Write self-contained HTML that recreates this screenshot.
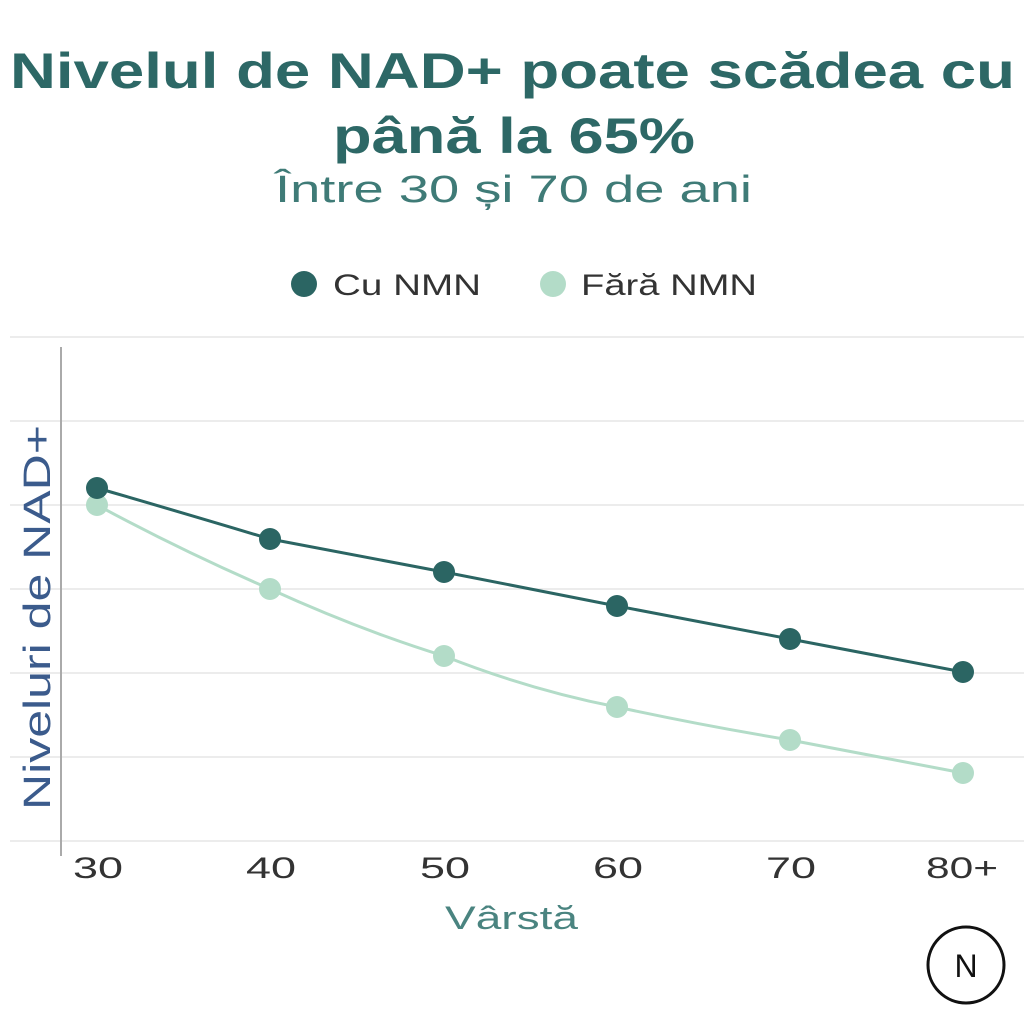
<!DOCTYPE html>
<html><head><meta charset="utf-8"><style>
body{margin:0;width:1024px;height:1024px;background:#fff;overflow:hidden;font-family:"Liberation Sans",sans-serif}
</style></head><body>
<svg width="1024" height="1024" xmlns="http://www.w3.org/2000/svg" font-family="Liberation Sans, DejaVu Sans, sans-serif">
<text x="10" y="88" font-size="50" font-weight="bold" fill="#2d6866" textLength="1005" lengthAdjust="spacingAndGlyphs">Nivelul de NAD+ poate scădea cu</text>
<text x="333" y="153" font-size="50" font-weight="bold" fill="#2d6866" textLength="362" lengthAdjust="spacingAndGlyphs">până la 65%</text>
<text x="275" y="202" font-size="38" fill="#3f7b77" textLength="477" lengthAdjust="spacingAndGlyphs">Între 30 și 70 de ani</text>
<circle cx="304" cy="284" r="13" fill="#2b6563"/>
<text x="333" y="295" font-size="30" fill="#333" textLength="148" lengthAdjust="spacingAndGlyphs">Cu NMN</text>
<circle cx="553" cy="284" r="13" fill="#b3dcc8"/>
<text x="581" y="295" font-size="30" fill="#333" textLength="176" lengthAdjust="spacingAndGlyphs">Fără NMN</text>
<g stroke="#ececec" stroke-width="2">
<line x1="10" y1="337" x2="1024" y2="337"/><line x1="10" y1="421" x2="1024" y2="421"/>
<line x1="10" y1="505" x2="1024" y2="505"/><line x1="10" y1="589" x2="1024" y2="589"/>
<line x1="10" y1="673" x2="1024" y2="673"/><line x1="10" y1="757" x2="1024" y2="757"/>
<line x1="10" y1="841" x2="1024" y2="841"/></g>
<line x1="61" y1="347" x2="61" y2="856" stroke="#aaa" stroke-width="2"/>
<text transform="translate(50,810) rotate(-90)" font-size="38" fill="#3b5b8c" textLength="385" lengthAdjust="spacingAndGlyphs">Niveluri de NAD+</text>
<path d="M97,505 Q180,550 270,589 Q360,630 444,656 Q530,690 617,707 Q700,725 790,740 L963,773" fill="none" stroke="#b3dcc8" stroke-width="3"/>
<path d="M97,488 Q180,512 270,539 L444,572 L617,606 L790,639 L963,672" fill="none" stroke="#2b6563" stroke-width="3"/>
<g fill="#b3dcc8"><circle cx="97" cy="505" r="11"/><circle cx="270" cy="589" r="11"/><circle cx="444" cy="656" r="11"/><circle cx="617" cy="707" r="11"/><circle cx="790" cy="740" r="11"/><circle cx="963" cy="773" r="11"/></g>
<g fill="#2b6563"><circle cx="97" cy="488" r="11"/><circle cx="270" cy="539" r="11"/><circle cx="444" cy="572" r="11"/><circle cx="617" cy="606" r="11"/><circle cx="790" cy="639" r="11"/><circle cx="963" cy="672" r="11"/></g>
<g font-size="30" fill="#333">
<text x="73" y="878" textLength="50" lengthAdjust="spacingAndGlyphs">30</text><text x="246" y="878" textLength="50" lengthAdjust="spacingAndGlyphs">40</text><text x="420" y="878" textLength="50" lengthAdjust="spacingAndGlyphs">50</text><text x="593" y="878" textLength="50" lengthAdjust="spacingAndGlyphs">60</text><text x="766" y="878" textLength="50" lengthAdjust="spacingAndGlyphs">70</text><text x="926" y="878" textLength="72" lengthAdjust="spacingAndGlyphs">80+</text></g>
<text x="445" y="929" font-size="32" fill="#4a8480" textLength="133" lengthAdjust="spacingAndGlyphs">Vârstă</text>
<circle cx="966" cy="965" r="38" fill="none" stroke="#111" stroke-width="3"/>
<text x="966" y="977" text-anchor="middle" font-size="32" fill="#111">N</text>
</svg>
</body></html>
